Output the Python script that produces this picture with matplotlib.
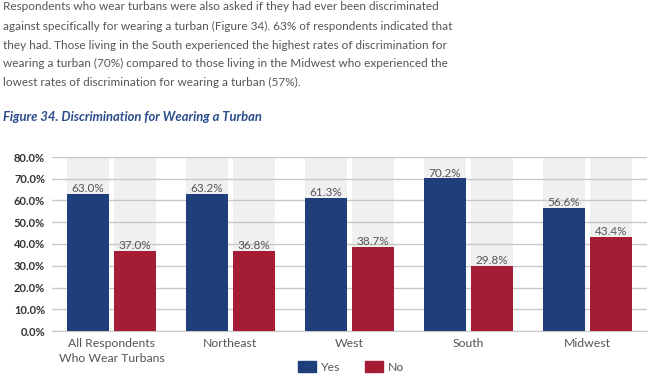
import numpy as np
import matplotlib.pyplot as plt
from matplotlib.patches import Patch

categories = ["All Respondents\nWho Wear Turbans", "Northeast", "West", "South", "Midwest"]
yes_vals = [63.0, 63.2, 61.3, 70.2, 56.6]
no_vals = [37.0, 36.8, 38.7, 29.8, 43.4]

paragraph = [
    "Respondents who wear turbans were also asked if they had ever been discriminated",
    "against specifically for wearing a turban (Figure 34). 63% of respondents indicated that",
    "they had. Those living in the South experienced the highest rates of discrimination for",
    "wearing a turban (70%) compared to those living in the Midwest who experienced the",
    "lowest rates of discrimination for wearing a turban (57%).",
]
title = "Figure 34. Discrimination for Wearing a Turban"

blue = "#1F3F7A"
red = "#A51C36"
font = "Lato"

fig = plt.figure(figsize=(6.5, 3.76), dpi=100)

# text block above the chart
line_y = [7, 26.5, 45.5, 63.5, 82]
for txt, y in zip(paragraph, line_y):
    fig.text(0.004, 1 - y / 376, txt, fontsize=8.5, color="#555555",
             family=font, va="center", ha="left")
fig.text(0.004, 1 - 117 / 376, title, fontsize=9.4, color="#2B4C8C",
         family=font, weight="bold", style="italic", va="center", ha="left")

ax = fig.add_axes([52 / 650, 1 - 331 / 376, 595 / 650, 174 / 376])

x = np.arange(len(categories))
w = 0.355
off = 0.2
ymax = 80

# light gray column shading behind each bar
ax.bar(x - off, [ymax] * len(x), w, color="#F0F0F0", zorder=0)
ax.bar(x + off, [ymax] * len(x), w, color="#F0F0F0", zorder=0)

b1 = ax.bar(x - off, yes_vals, w, color=blue, zorder=3, label="Yes")
b2 = ax.bar(x + off, no_vals, w, color=red, zorder=3, label="No")

for bars, vals in ((b1, yes_vals), (b2, no_vals)):
    for b, v in zip(bars, vals):
        ax.text(b.get_x() + b.get_width() / 2, v + 2.4, f"{v:.1f}%",
                ha="center", va="center", fontsize=8.5, color="#555555",
                family=font, zorder=4)

ax.set_ylim(0, ymax)
ax.set_xlim(-0.5, len(x) - 0.5)
ax.set_yticks(np.arange(0, 81, 10))
ax.set_yticklabels([f"{t:.1f}%" for t in np.arange(0, 81, 10)],
                   fontsize=8, weight="bold", color="#333333", family=font)
ax.yaxis.grid(True, color="#C8C8C8", linewidth=1, zorder=1)
ax.set_axisbelow(True)
ax.set_xticks(x)
ax.set_xticklabels(categories, fontsize=8.8, color="#555555", family=font,
                   linespacing=1.5)
ax.tick_params(axis="both", length=0, pad=5)
for s in ["top", "right", "left"]:
    ax.spines[s].set_visible(False)
ax.spines["bottom"].set_color("#C8C8C8")

handles = [Patch(color=blue, label="Yes"), Patch(color=red, label="No")]
fig.legend(handles=handles, loc="center", bbox_to_anchor=(351 / 650, 1 - 367 / 376),
           ncol=2, frameon=False, prop={"family": font, "size": 8.8},
           handlelength=1.5, handleheight=1.0, columnspacing=2.0, handletextpad=0.4,
           labelcolor="#555555")

fig.savefig("out.png", dpi=100, facecolor="white")
